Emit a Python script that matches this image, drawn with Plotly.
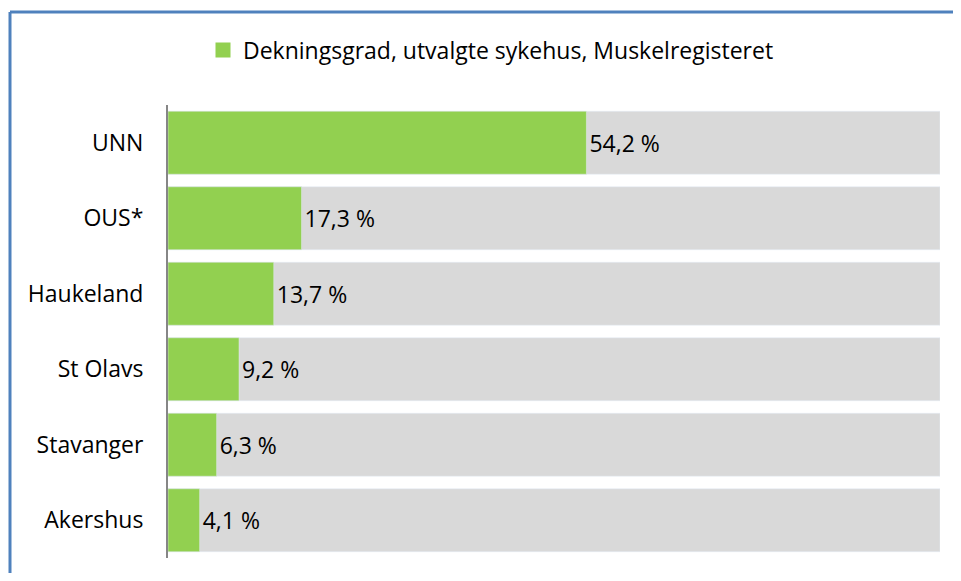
import plotly.graph_objects as go

categories = ["UNN", "OUS*", "Haukeland", "St Olavs", "Stavanger", "Akershus"]
values = [54.2, 17.3, 13.7, 9.2, 6.3, 4.1]
full = [100] * len(categories)
labels = [f"{v:.1f} %".replace(".", ",") for v in values]
series_name = "Dekningsgrad, utvalgte sykehus, Muskelregisteret"

OFF = 8  # page body margin
W, H = 961 - 2 * OFF, 581 - 2 * OFF
L, T = 168 - OFF, 105 - OFF
pw, ph = 772, 453
R, B = W - L - pw, H - T - ph

fig = go.Figure()
fig.add_trace(go.Bar(
    y=categories, x=full, orientation="h", marker_color="#D9D9D9",
    showlegend=False, hoverinfo="skip",
))
fig.add_trace(go.Bar(
    y=categories, x=values, orientation="h", marker_color="#92D050",
    name=series_name, text=labels, textposition="outside", showlegend=False,
    textfont=dict(size=23, color="#000000"), cliponaxis=False,
))
fig.add_trace(go.Scatter(
    x=[None], y=[None], mode="markers", name=series_name,
    marker=dict(symbol="square", size=15, color="#92D050"),
))

bx = (10 - OFF - L) / pw
by = 1 + (T - (12 - OFF)) / ph
xr = (W - L) / pw
yb = -B / ph
fig.add_shape(type="line", xref="paper", yref="paper", x0=bx, x1=xr, y0=by, y1=by,
              line=dict(color="#4F81BD", width=3))
fig.add_shape(type="line", xref="paper", yref="paper", x0=bx, x1=bx, y0=by, y1=yb,
              line=dict(color="#4F81BD", width=3))

fig.update_layout(
    width=W, height=H,
    margin=dict(l=L, r=R, t=T, b=B),
    barmode="overlay", bargap=0.166,
    plot_bgcolor="white", paper_bgcolor="white",
    font=dict(family="Open Sans", size=23, color="#000000"),
    showlegend=True,
    legend=dict(orientation="h", x=(491 - OFF - L) / pw, xanchor="center",
                y=1 + (T - (50 - OFF)) / ph, yanchor="middle",
                font=dict(size=23), itemwidth=30, bgcolor="rgba(0,0,0,0)"),
    xaxis=dict(range=[0, 100], visible=False, fixedrange=True),
    yaxis=dict(autorange="reversed", showline=True, linecolor="#868686", linewidth=2,
               ticks="", showgrid=False, ticklabelstandoff=18, fixedrange=True),
)

fig.write_html("out.html", config={"displayModeBar": False, "staticPlot": True})
